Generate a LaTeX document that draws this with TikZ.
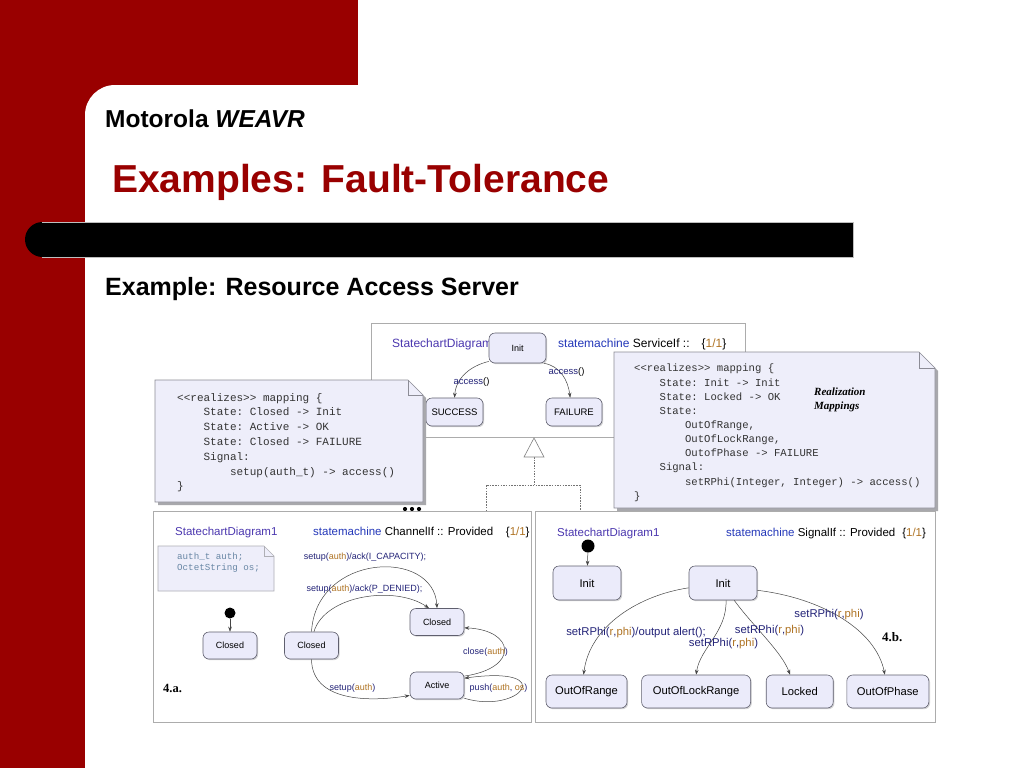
\documentclass[tikz,border=0pt]{standalone}
\usepackage{fontspec}
\setmainfont{Liberation Sans}
\setmonofont{Liberation Mono}
\newfontfamily\slideserif{Liberation Serif}
\usetikzlibrary{arrows.meta, positioning, shadows, calc}
\definecolor{WeavrRed}{RGB}{153, 0, 0}
\definecolor{WeavrBarEdge}{RGB}{190, 190, 190}
\definecolor{WeavrPanel}{RGB}{172, 172, 172}
\definecolor{WeavrStateFill}{RGB}{235, 235, 250}
\definecolor{WeavrStateLine}{RGB}{95, 95, 110}
\definecolor{WeavrNoteFill}{RGB}{238, 238, 250}
\definecolor{WeavrNoteLine}{RGB}{140, 140, 150}
\definecolor{WeavrShadow}{RGB}{168, 168, 172}
\definecolor{WeavrDiagram}{RGB}{75, 55, 175}
\definecolor{WeavrKeyword}{RGB}{35, 55, 185}
\definecolor{WeavrEvent}{RGB}{35, 35, 120}
\definecolor{WeavrArg}{RGB}{175, 115, 35}
\definecolor{WeavrDecl}{RGB}{105, 135, 165}
\definecolor{WeavrLine}{RGB}{70, 70, 70}
\newcommand{\argtxt}[1]{\textcolor{WeavrArg}{#1}}

\begin{document}
\begin{tikzpicture}[
    x=1pt, y=-1pt,
    % Styles
    slidetext/.style={anchor=base west, inner sep=0pt},
    panel/.style={rectangle, draw=WeavrPanel, line width=0.8pt, fill=white, anchor=north west, inner sep=0pt},
    header/.style={anchor=base west, inner sep=0pt, font=\fontsize{11.5}{13}\selectfont},
    state/.style={rectangle, rounded corners=6pt, draw=WeavrStateLine, line width=0.6pt, fill=WeavrStateFill, inner sep=0pt, align=center, drop shadow={shadow xshift=1.2pt, shadow yshift=-1.2pt, fill=WeavrShadow}},
    smallstate/.style={state, font=\fontsize{9.5}{11}\selectfont},
    chanstate/.style={state, minimum width=54pt, minimum height=27pt, font=\fontsize{9}{11}\selectfont},
    sigstate/.style={state, minimum height=33pt, font=\fontsize{11.2}{13}\selectfont},
    initial/.style={circle, fill=black, inner sep=0pt},
    transition/.style={draw=WeavrLine, line width=0.5pt, -{Stealth[length=5pt, width=3.6pt]}},
    evlabel/.style={inner sep=0pt, text=WeavrEvent},
    notebody/.style={fill=WeavrNoteFill, draw=WeavrNoteLine, line width=0.6pt},
    noteshadow/.style={fill=WeavrShadow},
    mapping/.style={anchor=north west, inner sep=0pt, align=left, text=black!80},
    genline/.style={draw=black!55, line width=0.5pt, dash pattern=on 1.5pt off 1.2pt}
]
\useasboundingbox (0,0) rectangle (1024,768);

% ==========================================================================================
% SLIDE BACKGROUND
% ==========================================================================================

\fill[white] (0,0) rectangle (1024,768);
\fill[WeavrRed] (0,0) rectangle (358,85);
\fill[WeavrRed] (0,0) rectangle (85,768);
% rounded inner corner of the white card
\fill[WeavrRed] (85,85) rectangle (115,115);
\fill[white] (115,115) circle (30);

% Black bar
\fill[black] (42,222) rectangle (853,257);
\fill[black] (42.5,239.5) circle (17.5);
\draw[WeavrBarEdge, line width=0.8pt] (42,222) -- (853,222) -- (853,257) -- (42,257);

% Titles
\node[slidetext, font=\fontsize{24.5}{28}\selectfont\bfseries] (brand) at (105,127) {Motorola \textit{WEAVR}};
\node[slidetext, font=\fontsize{39}{44}\selectfont\bfseries, text=WeavrRed] (title) at (112,192) {Examples: Fault-Tolerance};
\node[slidetext, font=\fontsize{25}{29}\selectfont\bfseries] (subtitle) at (105,295) {Example: Resource Access Server};

% ==========================================================================================
% SERVICE INTERFACE (Top)
% ==========================================================================================

\node[panel, minimum width=374pt, minimum height=114pt] (service_panel) at (371,323) {};
\node[header, font=\fontsize{12}{14}\selectfont] (service_name) at (392,347) {\textcolor{WeavrDiagram}{StatechartDiagram1}};
\node[header, font=\fontsize{12}{14}\selectfont] (service_sm) at (558,347) {\textcolor{WeavrKeyword}{statemachine} ServiceIf ::\hspace{1em}\{\argtxt{1/1}\}};

\node[smallstate, minimum width=57pt, minimum height=30pt, font=\fontsize{9}{11}\selectfont] (svc_init) at (517.5,348) {Init};
\node[smallstate, minimum width=57pt, minimum height=28pt] (svc_success) at (454.5,412) {SUCCESS};
\node[smallstate, minimum width=56pt, minimum height=28pt] (svc_failure) at (574,412) {FAILURE};

\draw[transition] (svc_init.205) .. controls (470,366) and (456,378) .. (svc_success.north);
\draw[transition] (svc_init.-30) .. controls (560,366) and (568,380) .. (svc_failure.105);
\node[evlabel, font=\fontsize{9.5}{11}\selectfont] (svc_lbl_ok) at (471.5,382) {access\textcolor{black}{()}};
\node[evlabel, font=\fontsize{9.5}{11}\selectfont] (svc_lbl_fail) at (566.5,372) {access\textcolor{black}{()}};

% Generalization towards ServiceIf
\coordinate (gen_tip) at (534,438);
\coordinate (gen_base) at (534,457);
\coordinate (gen_left) at (486,511);
\coordinate (gen_right) at (580,511);
\draw[genline] (gen_left) -- ++(0,-26) -| (gen_right);
\draw[genline] (gen_base) -- ++(0,28);
\filldraw[fill=white, draw=black!50, line width=0.6pt] (gen_tip) -- (524,457) -- (544,457) -- cycle;

% ==========================================================================================
% REALIZATION MAPPINGS (Notes)
% ==========================================================================================

% ChannelIf -> ServiceIf
\fill[noteshadow] (158,383) -- (411,383) -- (426,398) -- (426,505) -- (158,505) -- cycle;
\filldraw[notebody] (155,380) -- (408,380) -- (423,395) -- (423,502) -- (155,502) -- cycle;
\draw[notebody, fill=none] (408,380) -- (408,395) -- (423,395);
\node[mapping, font=\ttfamily\fontsize{11}{14.8}\selectfont] (map_channel) at (177,393) {<{}<realizes>{}> mapping \{\\
\phantom{0000}State: Closed -> Init\\
\phantom{0000}State: Active -> OK\\
\phantom{0000}State: Closed -> FAILURE\\
\phantom{0000}Signal:\\
\phantom{00000000}setup(auth\_t) -> access()\\
\}};
\fill (405,509) circle (2.1) (412,509) circle (2.1) (419,509) circle (2.1);

% SignalIf -> ServiceIf
\fill[noteshadow] (617,355) -- (922,355) -- (938,371) -- (938,511) -- (617,511) -- cycle;
\filldraw[notebody] (614,352) -- (919,352) -- (935,368) -- (935,508) -- (614,508) -- cycle;
\draw[notebody, fill=none] (919,352) -- (919,368) -- (935,368);
\node[mapping, font=\ttfamily\fontsize{10.6}{14.15}\selectfont] (map_signal) at (634,364) {<{}<realizes>{}> mapping \{\\
\phantom{0000}State: Init -> Init\\
\phantom{0000}State: Locked -> OK\\
\phantom{0000}State:\\
\phantom{00000000}OutOfRange,\\
\phantom{00000000}OutOfLockRange,\\
\phantom{00000000}OutofPhase -> FAILURE\\
\phantom{0000}Signal:\\
\phantom{00000000}setRPhi(Integer, Integer) -> access()\\
\}};
\node[anchor=north west, inner sep=0pt, align=left, font=\slideserif\bfseries\itshape\fontsize{11}{14}\selectfont] (realize_tag) at (814,388) {Realization\\Mappings};
\fill (919,518) circle (2.1) (926,518) circle (2.1) (933,518) circle (2.1);

% ==========================================================================================
% CHANNEL INTERFACE (4.a.)
% ==========================================================================================

\node[panel, minimum width=378pt, minimum height=211pt] (channel_panel) at (153,511) {};
\node[header] (channel_name) at (175,535) {\textcolor{WeavrDiagram}{StatechartDiagram1}};
\node[header] (channel_sm) at (313,535) {\textcolor{WeavrKeyword}{statemachine} ChannelIf :: Provided\hspace{1.1em}\{\argtxt{1/1}\}};

% Attribute declarations
\filldraw[notebody, draw=WeavrNoteLine!70] (158,546) -- (264,546) -- (274,556) -- (274,591) -- (158,591) -- cycle;
\draw[notebody, draw=WeavrNoteLine!70, fill=none] (264,546) -- (264,556) -- (274,556);
\node[mapping, text=WeavrDecl, font=\ttfamily\fontsize{9.2}{10.2}\selectfont] (channel_decl) at (177,553) {auth\_t auth;\\OctetString os;};

% States
\node[initial, minimum size=11pt] (ch_start) at (230,613) {};
\node[chanstate] (ch_closed_a) at (230,645.5) {Closed};
\node[chanstate] (ch_closed_b) at (311.5,645.5) {Closed};
\node[chanstate] (ch_closed_c) at (437,622) {Closed};
\node[chanstate] (ch_active) at (437,685.5) {Active};

% Transitions
\draw[transition] (ch_start) -- (ch_closed_a);
\draw[transition] (ch_closed_b.north) .. controls (316,553) and (434,548) .. (ch_closed_c.north);
\draw[transition] (ch_closed_b.80) .. controls (325,595) and (395,585) .. (ch_closed_c.120);
\draw[transition] (ch_closed_b.south) .. controls (312,702) and (370,702) .. (ch_active.200);
\draw[transition] (ch_active.19) .. controls (520,668) and (515,630) .. (ch_closed_c.-12);
\draw[transition] (ch_active.-25) .. controls (520,715) and (560,665) .. (ch_active.15);

\node[evlabel, font=\fontsize{9}{11}\selectfont] (ch_lbl_cap) at (365,557) {setup(\argtxt{auth})/ack(I\_CAPACITY);};
\node[evlabel, font=\fontsize{9}{11}\selectfont] (ch_lbl_deny) at (364.5,589) {setup(\argtxt{auth})/ack(P\_DENIED);};
\node[evlabel, font=\fontsize{9}{11}\selectfont] (ch_lbl_setup) at (352.5,688) {setup(\argtxt{auth})};
\node[evlabel, font=\fontsize{9}{11}\selectfont] (ch_lbl_close) at (485.5,652) {close(\argtxt{auth})};
\node[evlabel, font=\fontsize{9}{11}\selectfont] (ch_lbl_push) at (498.5,688) {push(\argtxt{auth}, \argtxt{os})};

\node[slidetext, font=\slideserif\bfseries\fontsize{12.5}{14}\selectfont] (tag_a) at (163,692) {4.a.};

% ==========================================================================================
% SIGNAL INTERFACE (4.b.)
% ==========================================================================================

\node[panel, minimum width=400pt, minimum height=211pt] (signal_panel) at (535,511) {};
\node[header] (signal_name) at (557,536) {\textcolor{WeavrDiagram}{StatechartDiagram1}};
\node[header] (signal_sm) at (726,536) {\textcolor{WeavrKeyword}{statemachine} SignalIf :: Provided\hspace{0.6em}\{\argtxt{1/1}\}};

% States
\node[initial, minimum size=13pt] (sg_start) at (588,546) {};
\node[sigstate, minimum width=68pt, minimum height=34pt] (sg_init_a) at (587,583) {Init};
\node[sigstate, minimum width=68pt, minimum height=34pt] (sg_init_b) at (723,583) {Init};
\node[sigstate, minimum width=81pt] (sg_range) at (586.5,691.5) {OutOfRange};
\node[sigstate, minimum width=109pt, right=14pt of sg_range] (sg_lockrange) {OutOfLockRange};
\node[sigstate, minimum width=67pt, right=15pt of sg_lockrange] (sg_locked) {Locked};
\node[sigstate, minimum width=82pt, right=13pt of sg_locked] (sg_phase) {OutOfPhase};

% Transitions
\draw[transition] (sg_start) -- (sg_init_a);
\draw[transition] (sg_init_b.188) .. controls (640,595) and (590,625) .. (sg_range.100);
\draw[transition] (sg_init_b.-80) .. controls (727,632) and (700,648) .. (sg_lockrange.north);
\draw[transition] (sg_init_b.-57) .. controls (752,625) and (782,652) .. (sg_locked.120);
\draw[transition] (sg_init_b.-12) .. controls (822,598) and (876,630) .. (sg_phase.100);

\node[evlabel, font=\fontsize{11.3}{13}\selectfont] (sg_lbl_range) at (636,633) {setRPhi(\argtxt{r},\argtxt{phi})/output alert();};
\node[evlabel, font=\fontsize{11.3}{13}\selectfont] (sg_lbl_lock) at (723.5,644) {setRPhi(\argtxt{r},\argtxt{phi})};
\node[evlabel, font=\fontsize{11.3}{13}\selectfont] (sg_lbl_locked) at (769.5,631) {setRPhi(\argtxt{r},\argtxt{phi})};
\node[evlabel, font=\fontsize{11.3}{13}\selectfont] (sg_lbl_phase) at (829,615) {setRPhi(\argtxt{r},\argtxt{phi})};

\node[slidetext, font=\slideserif\bfseries\fontsize{13}{15}\selectfont] (tag_b) at (882,641) {4.b.};

\end{tikzpicture}
\end{document}
